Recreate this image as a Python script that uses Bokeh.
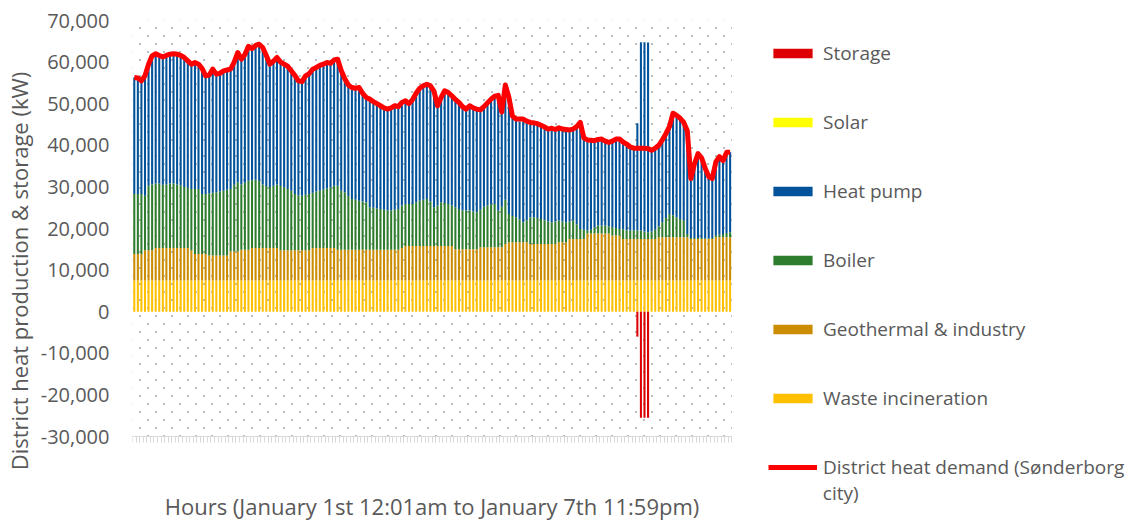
import base64
import struct
import zlib

from bokeh.plotting import figure
from bokeh.models import (ColumnDataSource, Range1d, FixedTicker, NumeralTickFormatter,
                          Legend, LegendItem, BoxAnnotation, CustomJSTickFormatter,
                          ImageURLTexture, Label)
from bokeh.embed import file_html
from bokeh.resources import INLINE

# ---------------- data (kW, hourly, Jan 1st 00:00 -> Jan 7th 23:00) ----------------
hours = list(range(168))

waste_incineration = [
    7500, 7500, 7500, 7500, 7500, 7500, 7500, 7500, 7500, 7500, 7500, 7500, 7500, 7500, 7500, 7500, 7500, 7500, 7500, 7500, 7500, 7500, 7500, 7500,
    7500, 7500, 7500, 7500, 7500, 7500, 7500, 7500, 7500, 7500, 7500, 7500, 7500, 7500, 7500, 7500, 7500, 7500, 7500, 7500, 7500, 7500, 7500, 7500,
    7500, 7500, 7500, 7500, 7500, 7500, 7500, 7500, 7500, 7500, 7500, 7500, 7500, 7500, 7500, 7500, 7500, 7500, 7500, 7500, 7500, 7500, 7500, 7500,
    7500, 7500, 7500, 7500, 7500, 7500, 7500, 7500, 7500, 7500, 7500, 7500, 7500, 7500, 7500, 7500, 7500, 7500, 7500, 7500, 7500, 7500, 7500, 7500,
    7500, 7500, 7500, 7500, 7500, 7500, 7500, 7500, 7500, 7500, 7500, 7500, 7500, 7500, 7500, 7500, 7500, 7500, 7500, 7500, 7500, 7500, 7500, 7500,
    7500, 7500, 7500, 7500, 7500, 7500, 7500, 7500, 7500, 7500, 7500, 7500, 7500, 7500, 7500, 7500, 7500, 7500, 7500, 7500, 7500, 7500, 7500, 7500,
    7500, 7500, 7500, 7500, 7500, 7500, 7500, 7500, 7500, 7500, 7500, 7500, 7500, 7500, 7500, 7500, 7500, 7500, 7500, 7500, 7500, 7500, 7500, 7500,
]

geothermal_industry = [
    6400, 6400, 6400, 7300, 7300, 7300, 7800, 7800, 7800, 7800, 7800, 7800, 7800, 7800, 7800, 7800, 7200, 6400, 6400, 6400, 6400, 6000, 6000, 6000,
    6000, 6000, 6000, 7000, 7000, 7000, 7400, 7400, 7400, 7800, 7800, 7800, 7800, 7800, 7800, 7800, 7800, 7300, 7300, 7300, 7300, 7300, 7300, 7300,
    7300, 7300, 7800, 7800, 7800, 7800, 7800, 7800, 7800, 7400, 7400, 7400, 7400, 7400, 7400, 7400, 7400, 7400, 7400, 7400, 7400, 7400, 7400, 7400,
    7400, 7400, 7400, 7800, 8300, 8300, 8300, 8300, 8300, 8300, 8300, 8300, 8300, 8300, 8300, 8300, 8300, 8300, 7500, 7500, 7500, 7500, 7500, 7500,
    7500, 8000, 8000, 8000, 8000, 8000, 8000, 8000, 8800, 9200, 9200, 9200, 9200, 9200, 9200, 8800, 8800, 8800, 8800, 8800, 8800, 8800, 8800, 9200,
    9200, 9200, 10000, 10000, 10000, 10000, 10000, 11300, 11300, 11300, 11300, 11300, 11300, 11300, 10800, 10800, 10800, 10000, 10000, 10000, 10000, 10000, 10000, 10000,
    10000, 10000, 10000, 10400, 10400, 10400, 10400, 10400, 10400, 10400, 10400, 10400, 10000, 10000, 10000, 10000, 10000, 10000, 10000, 10400, 10400, 10400, 10400, 10400,
]

boiler = [
    14400, 14400, 14400, 13100, 15500, 15800, 15500, 15500, 15200, 15300, 15500, 15500, 15300, 15100, 14700, 14500, 14800, 15600, 15600, 14400, 14400, 14900, 15100, 15200,
    15400, 15600, 15800, 15000, 16000, 16600, 15700, 16100, 16600, 16300, 16400, 16200, 15300, 14900, 14700, 15000, 15300, 15400, 15100, 14700, 14300, 13500, 13200, 13100,
    13300, 13500, 13300, 13600, 13800, 14000, 14300, 14600, 15000, 15400, 14200, 13800, 12900, 12200, 12000, 11800, 11600, 11400, 10200, 10100, 9900, 9800, 9600, 9400,
    9400, 9600, 9800, 10200, 10100, 10100, 10100, 10500, 10900, 11100, 11300, 10700, 9300, 9700, 10500, 10300, 10100, 9700, 10100, 9700, 9300, 9300, 9300, 9100,
    8900, 9000, 9700, 10000, 10300, 10400, 8800, 9700, 10600, 6800, 6300, 6000, 5500, 4800, 5300, 6400, 6400, 6200, 6000, 5700, 5400, 5200, 5400, 5200,
    5000, 4800, 4200, 4400, 3500, 2400, 2200, 700, 900, 1500, 1900, 1900, 1900, 1700, 2000, 1800, 1600, 2300, 2100, 2000, 2000, 2000, 2000, 1800,
    1600, 1800, 2200, 2600, 3600, 4600, 5600, 5300, 4800, 4400, 4000, 800, 200, 200, 200, 200, 100, 100, 200, 400, 600, 800, 1000, 1200,
]

heat_pump = [
    28000, 27900, 27200, 28800, 29200, 30900, 31200, 30800, 30700, 31000, 31100, 31200, 31300, 31200, 31100, 30500, 30000, 30400, 30000, 30200, 28400, 28500, 29700, 28400,
    28400, 28800, 28800, 28800, 29500, 31200, 30100, 30800, 32300, 31600, 32300, 32800, 32900, 31400, 29500, 29900, 30500, 29800, 29600, 29500, 28800, 28500, 27500, 27400,
    28600, 28900, 29700, 29800, 30100, 30200, 30300, 29800, 30200, 30400, 28900, 27300, 26700, 26800, 26800, 27200, 26000, 25200, 26000, 25500, 25200, 24800, 24500, 24400,
    24700, 25000, 24600, 24800, 24800, 24100, 25100, 26200, 27000, 27400, 27600, 27800, 27900, 24000, 25200, 27000, 26800, 26400, 25900, 25600, 25000, 24400, 25200, 24900,
    24800, 24000, 24100, 24700, 25300, 25900, 27700, 22800, 27600, 28000, 24000, 23400, 23600, 24200, 23500, 22800, 22700, 22700, 22500, 22400, 22200, 22600, 22100, 22300,
    22200, 22300, 22000, 22000, 23500, 25600, 22100, 21800, 21500, 20800, 20700, 20800, 20300, 20200, 20700, 21400, 21600, 21000, 20700, 20100, 19800, 25800, 45300, 45500,
    45600, 19500, 19600, 19500, 19800, 20300, 21000, 24500, 24500, 24200, 23600, 24800, 14300, 17800, 20300, 19300, 16900, 14900, 14300, 17700, 18800, 17600, 19400, 19200,
]

solar = [
    0, 0, 0, 0, 0, 0, 0, 0, 0, 0, 0, 0, 0, 0, 0, 0, 0, 0, 0, 0, 0, 0, 0, 0,
    0, 0, 0, 0, 0, 0, 0, 0, 0, 0, 0, 0, 0, 0, 0, 0, 0, 0, 0, 0, 0, 0, 0, 0,
    0, 0, 0, 0, 0, 0, 0, 0, 0, 0, 0, 0, 0, 0, 0, 0, 0, 0, 0, 0, 0, 0, 0, 0,
    0, 0, 0, 0, 0, 0, 0, 0, 0, 0, 0, 0, 0, 0, 0, 0, 0, 0, 0, 0, 0, 0, 0, 0,
    0, 0, 0, 0, 0, 0, 0, 0, 0, 0, 0, 200, 500, 600, 300, 0, 0, 0, 0, 0, 0, 0, 0, 0,
    0, 0, 0, 0, 0, 0, 0, 0, 0, 0, 0, 0, 0, 0, 0, 0, 0, 0, 0, 0, 0, 0, 0, 0,
    0, 0, 0, 0, 0, 0, 0, 0, 0, 0, 0, 0, 0, 0, 0, 0, 0, 0, 0, 0, 0, 0, 0, 0,
]

storage = [
    0, 0, 0, 0, 0, 0, 0, 0, 0, 0, 0, 0, 0, 0, 0, 0, 0, 0, 0, 0, 0, 0, 0, 0,
    0, 0, 0, 0, 0, 0, 0, 0, 0, 0, 0, 0, 0, 0, 0, 0, 0, 0, 0, 0, 0, 0, 0, 0,
    0, 0, 0, 0, 0, 0, 0, 0, 0, 0, 0, 0, 0, 0, 0, 0, 0, 0, 0, 0, 0, 0, 0, 0,
    0, 0, 0, 0, 0, 0, 0, 0, 0, 0, 0, 0, 0, 0, 0, 0, 0, 0, 0, 0, 0, 0, 0, 0,
    0, 0, 0, 0, 0, 0, 0, 0, 0, 0, 0, 0, 0, 0, 0, 0, 0, 0, 0, 0, 0, 0, 0, 0,
    0, 0, 0, 0, 0, 0, 0, 0, 0, 0, 0, 0, 0, 0, 0, 0, 0, 0, 0, 0, 0, -6000, -25500, -25500,
    -25500, 0, 0, 0, 0, 0, 0, 0, 0, 0, 0, 0, 0, 0, 0, 0, 0, 0, 0, 0, 0, 0, 0, 0,
]

demand = [
    56300, 56200, 55500, 56700, 59500, 61500, 62000, 61600, 61200, 61600, 61900, 62000, 61900, 61600, 61100, 60300, 59500, 59900, 59500, 58500, 56700, 56900, 58300, 57100,
    57300, 57900, 58100, 58300, 60000, 62300, 60700, 61800, 63800, 63200, 64000, 64300, 63500, 61600, 59500, 60200, 61100, 60000, 59500, 59000, 57900, 56800, 55500, 55300,
    56700, 57200, 58300, 58700, 59200, 59500, 59900, 59700, 60500, 60700, 58000, 56000, 54500, 53900, 53700, 53900, 52500, 51500, 51100, 50500, 50000, 49500, 49000, 48700,
    49000, 49500, 49300, 50300, 50700, 50000, 51000, 52500, 53700, 54300, 54700, 54300, 53000, 49500, 51500, 53100, 52700, 51900, 51000, 50300, 49300, 48700, 49500, 49000,
    48700, 48500, 49300, 50200, 51100, 51800, 52000, 48000, 54500, 51500, 47000, 46300, 46300, 46300, 45800, 45500, 45400, 45200, 44800, 44400, 43900, 44100, 43800, 44200,
    43900, 43800, 43700, 43900, 44500, 45500, 41800, 41300, 41200, 41100, 41400, 41500, 41000, 40700, 41000, 41500, 41500, 40800, 40300, 39600, 39300, 39300, 39300, 39300,
    39200, 38800, 39300, 40000, 41300, 42800, 44500, 47700, 47200, 46500, 45500, 43500, 32000, 35500, 38000, 37000, 34500, 32500, 32000, 36000, 37300, 36300, 38300, 38300,
]

y_ticks = [-30000, -20000, -10000, 0, 10000, 20000, 30000, 40000, 50000, 60000, 70000]

series_names = ["waste", "geo", "boiler", "heat_pump", "solar"]
series_labels = ["Waste incineration", "Geothermal & industry", "Boiler", "Heat pump", "Solar"]
series_colors = ["#FFC000", "#CC8C00", "#2E7D2E", "#00529B", "#FFFF00"]
storage_label = "Storage"
storage_color = "#DD0000"
demand_label = ["District heat demand (Sønderborg", "city)"]
demand_color = "#FF0000"
text_grey = "#595959"
FONT = "Open Sans"

# ---------------- layout geometry (pixels) ----------------
PLOT_W, PLOT_H = 1133, 521
FRAME_LEFT, FRAME_TOP = 131, 20          # frame covers the rest of the canvas
DATA_RIGHT, AXIS_Y = 731, 436            # where the hourly data area ends
frame_w = PLOT_W - FRAME_LEFT
frame_h = PLOT_H - FRAME_TOP

x_start, x_data_end = hours[0] - 0.5, hours[-1] + 0.5
x_per_px = (x_data_end - x_start) / (DATA_RIGHT - FRAME_LEFT)
x_end = x_start + frame_w * x_per_px

y_low, y_high = min(y_ticks), max(y_ticks)
y_per_px = (y_high - y_low) / (AXIS_Y - FRAME_TOP)
y_start = y_high - frame_h * y_per_px


def px_to_x(px):
    return x_start + (px - FRAME_LEFT) * x_per_px


def px_to_y(py):
    return y_high - (py - FRAME_TOP) * y_per_px


# ---------------- dotted background tile (Excel-like 5% pattern) ----------------
def _png_tile(size, dots, rgba):
    rows = []
    for yy in range(size):
        row_bytes = bytearray(b"\x00")
        for xx in range(size):
            row_bytes += bytes(rgba) if (xx, yy) in dots else b"\x00\x00\x00\x00"
        rows.append(bytes(row_bytes))
    raw = b"".join(rows)

    def chunk(tag, data):
        return (struct.pack(">I", len(data)) + tag + data
                + struct.pack(">I", zlib.crc32(tag + data) & 0xFFFFFFFF))

    png = (b"\x89PNG\r\n\x1a\n"
           + chunk(b"IHDR", struct.pack(">IIBBBBB", size, size, 8, 6, 0, 0, 0))
           + chunk(b"IDAT", zlib.compress(raw))
           + chunk(b"IEND", b""))
    return "data:image/png;base64," + base64.b64encode(png).decode()


tile_dots = {(3, 3), (4, 3), (3, 4), (4, 4), (11, 11), (12, 11), (11, 12), (12, 12)}
dot_texture = ImageURLTexture(url=_png_tile(16, tile_dots, (140, 140, 140, 150)),
                              repetition="repeat")

# ---------------- chart ----------------
source = ColumnDataSource(dict(hour=hours, waste=waste_incineration, geo=geothermal_industry,
                               boiler=boiler, heat_pump=heat_pump, solar=solar,
                               storage=storage, demand=demand))

p = figure(width=PLOT_W, height=PLOT_H, output_backend="svg", toolbar_location=None,
           x_range=Range1d(x_start, x_end), y_range=Range1d(y_start, y_high),
           min_border_left=FRAME_LEFT, min_border_right=0, min_border_top=FRAME_TOP,
           min_border_bottom=0)
p.outline_line_color = None
p.xgrid.visible = False
p.ygrid.visible = False

p.add_layout(BoxAnnotation(left=x_start, right=x_data_end, bottom=y_low, top=y_high,
                           fill_alpha=0, line_color=None, level="underlay",
                           hatch_pattern="bgdots", hatch_extra={"bgdots": dot_texture}))

stack = p.vbar_stack(series_names, x="hour", width=0.58, color=series_colors,
                     line_color=None, source=source)
r_storage = p.vbar(x="hour", top="storage", bottom=0, width=0.58, color=storage_color,
                   line_color=None, source=source)
r_demand = p.line(x="hour", y="demand", line_color=demand_color, line_width=5,
                  line_join="round", source=source)

# y axis
yax = p.yaxis[0]
yax.bounds = (y_low, y_high)
yax.ticker = FixedTicker(ticks=y_ticks)
yax.formatter = NumeralTickFormatter(format="0,0")
yax.axis_line_color = None
yax.major_tick_line_color = None
yax.minor_tick_line_color = None
yax.major_tick_out = 0
yax.major_tick_in = 0
yax.major_label_standoff = 23
yax.major_label_text_font = FONT
yax.major_label_text_font_size = "20px"
yax.major_label_text_color = text_grey
yax.axis_label = "District heat production & storage (kW)"
yax.axis_label_text_font = FONT
yax.axis_label_text_font_size = "22px"
yax.axis_label_text_font_style = "normal"
yax.axis_label_text_color = text_grey
yax.axis_label_standoff = 4

# x axis drawn at y = -30,000 inside the frame
xax = p.xaxis[0]
xax.fixed_location = y_low
xax.bounds = (x_start, x_data_end)
xax.ticker = FixedTicker(ticks=[h - 0.5 for h in hours] + [hours[-1] + 0.5])
xax.formatter = CustomJSTickFormatter(code="return ''")
xax.axis_line_color = "#d9d9d9"
xax.major_tick_line_color = "#d9d9d9"
xax.minor_tick_line_color = None
xax.major_tick_out = 6
xax.major_tick_in = 0
xax.major_label_standoff = 0
xax.major_label_text_font_size = "1px"
xax.axis_label = "Hours (January 1st 12:01am to January 7th 11:59pm)"
xax.axis_label_text_font = FONT
xax.axis_label_text_font_size = "22px"
xax.axis_label_text_font_style = "normal"
xax.axis_label_text_color = text_grey
xax.axis_label_standoff = 48

# legend (inside the wide frame, to the right of the data area)
order = [4, 3, 2, 1, 0]   # Solar, Heat pump, Boiler, Geothermal, Waste
items = [LegendItem(label=storage_label, renderers=[r_storage])]
items += [LegendItem(label=series_labels[i], renderers=[stack[i]]) for i in order]
items += [LegendItem(label=demand_label[0], renderers=[r_demand])]

legend = Legend(items=items, location=(636, 41), padding=0, margin=0, spacing=43,
                glyph_width=49, glyph_height=12, label_standoff=6, label_height=20,
                border_line_color=None, background_fill_alpha=0,
                label_text_font=FONT, label_text_font_size="19px",
                label_text_color=text_grey)
p.add_layout(legend, "center")

p.add_layout(Label(x=px_to_x(822), y=px_to_y(492), text=demand_label[1], text_font=FONT,
                   text_font_size="19px", text_color=text_grey,
                   text_baseline="middle", text_align="left"))

open("out.html", "w").write(file_html(p, INLINE))
